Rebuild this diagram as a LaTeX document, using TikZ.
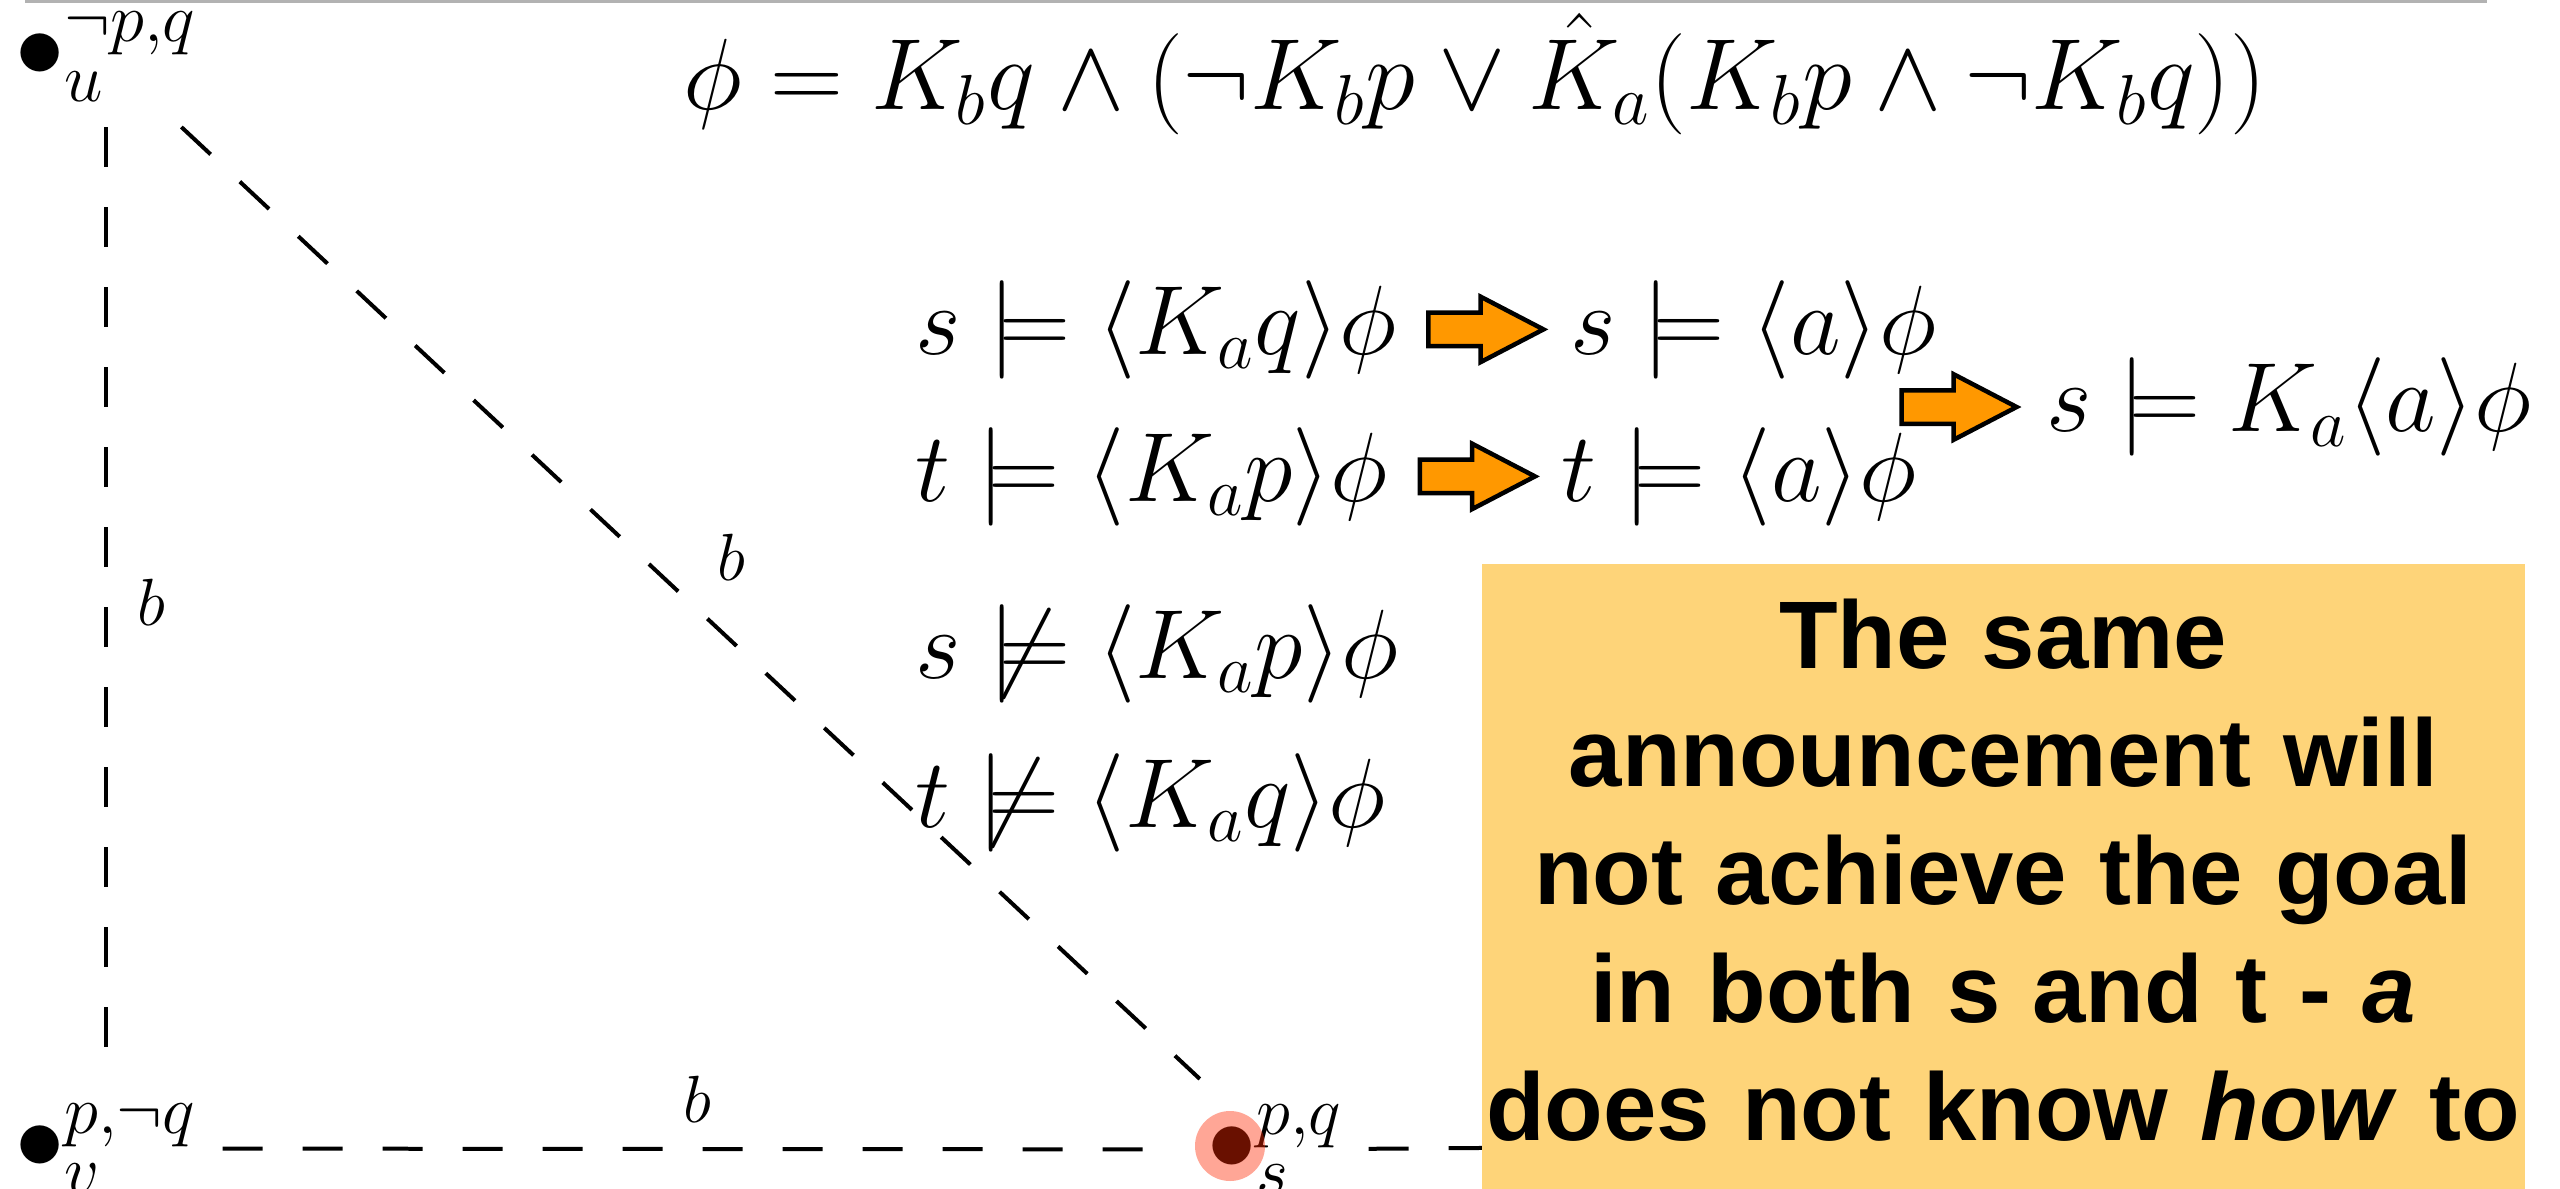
\RequirePackage{fix-cm}
\documentclass[tikz,border=0pt]{standalone}
\usepackage{fontspec}
\usetikzlibrary{shapes.arrows, positioning, calc}
\newfontfamily\boxfont{Liberation Sans}
\definecolor{boxyellow}{RGB}{254,212,121}
\definecolor{arroworange}{RGB}{255,152,0}
\definecolor{hlred}{RGB}{255,40,0}
\tikzset{
  world/.style ={inner sep=0.25cm, font=\fontsize{28}{33}\selectfont},
  kedge/.style ={draw=black, line width=0.04cm, dash pattern=on 0.4cm off 0.4cm},
  klabel/.style={font=\fontsize{19}{22}\selectfont, inner sep=0.2cm},
  fml/.style   ={inner sep=0pt, font=\fontsize{28}{33}\selectfont},
  goalarrow/.style={single arrow, draw=black, line width=0.045cm, fill=arroworange,
                  inner xsep=0pt, inner ysep=0.145cm, minimum height=1.15cm,
                  single arrow head extend=0.16cm, single arrow tip angle=55},
  hilite/.style={circle, fill=hlred, fill opacity=0.41, minimum size=0.7cm, inner sep=0pt},
  notebox/.style={fill=boxyellow, text width=10.43cm, inner xsep=0pt, inner ysep=0.35cm,
                  align=center, text depth=6cm,
                  font=\boxfont\bfseries\fontsize{27.3}{33.6}\selectfont},
}
\begin{document}
\begin{tikzpicture}
\useasboundingbox (0,0) rectangle (25.6,11.88);

% slide rule
\draw[line width=0.03cm, gray!60] (0.25,11.86) -- (24.87,11.86);

% Kripke model
\node[world, anchor=base] (u) at (1.06,11.11) {$\bullet^{\neg p,q}_u$};
\node[world, anchor=base] (v) at (1.06,0.19) {$\bullet^{p,\neg q}_v$};
\node[world, anchor=base] (s) at (12.75,0.18) {$\bullet^{p,q}_s$};
\coordinate (tw) at (17.5,0.42);

\draw[kedge] (u) -- node[klabel, right, xshift=0.1cm] {$b$} (v);
\draw[kedge] (u) -- node[klabel, above right, xshift=0.05cm] {$b$} (s);
\draw[kedge] (v) -- node[klabel, above, pos=0.495, yshift=0.04cm] {$b$} (s);
\draw[kedge] (s) -- (tw);

\node[hilite] (shl) at (12.30,0.42) {};

% goal and announcements
\node[fml, anchor=base west, font=\fontsize{28.8}{34}\selectfont] (phi) at (6.83,10.79)
  {$\phi = K_b q \wedge (\neg K_b p \vee \hat{K}_a(K_b p \wedge \neg K_b q))$};

\node[fml, anchor=base west] (f1) at (9.15,8.34) {$s \models \langle K_a q\rangle\phi$};
\node[fml, anchor=base west] (f2) at (9.15,6.87) {$t \models \langle K_a p\rangle\phi$};
\node[fml, anchor=base west] (f3) at (9.15,5.10) {$s \not\models \langle K_a p\rangle\phi$};
\node[fml, anchor=base west] (f4) at (9.15,3.61) {$t \not\models \langle K_a q\rangle\phi$};

\node[goalarrow, right=0.29cm of f1] (a1) {};
\node[fml, right=0.21cm of a1] (g1) {$s \models \langle a\rangle\phi$};
\node[goalarrow, right=0.29cm of f2] (a2) {};
\node[fml, right=0.21cm of a2] (g2) {$t \models \langle a\rangle\phi$};
\node[goalarrow] (a3) at (19.43,7.81) {};
\node[fml, right=0.24cm of a3] (g3) {$s \models K_a\langle a\rangle\phi$};

\node[notebox, anchor=north west] (msg) at (14.81,6.25)
  {The same\\announcement will\\not achieve the goal\\in both s and t - \textit{a}\\does not know \textit{how} to};

\end{tikzpicture}
\end{document}
